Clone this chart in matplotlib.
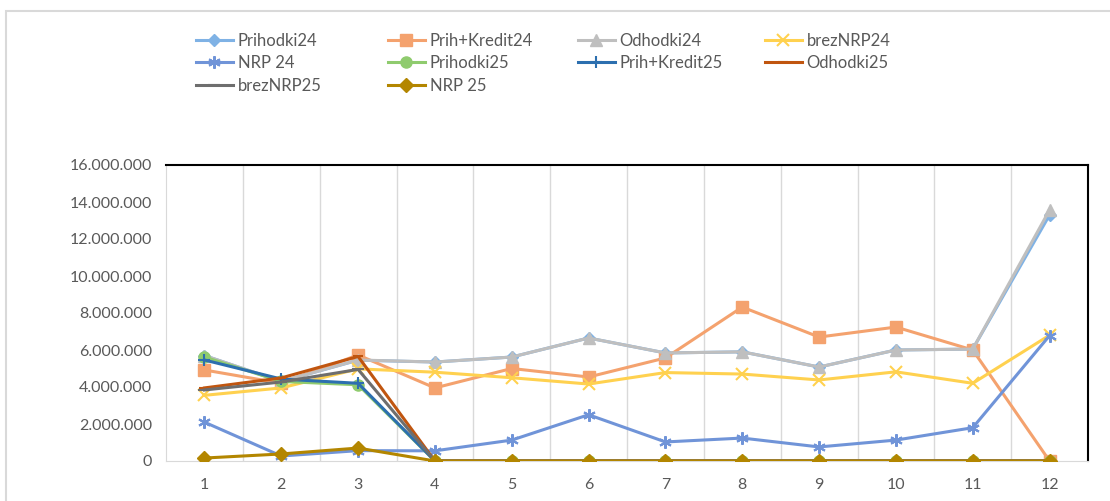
import numpy as np
import matplotlib.pyplot as plt
from matplotlib.patches import Rectangle
from matplotlib.ticker import FuncFormatter

months = list(range(1, 13))

prihodki24 = [5.70e6, 4.30e6, 5.45e6, 5.35e6, 5.62e6, 6.65e6, 5.84e6, 5.90e6, 5.08e6, 6.00e6, 6.05e6, 13.30e6]
prih_kredit24 = [4.92e6, 4.20e6, 5.73e6, 3.95e6, 5.00e6, 4.54e6, 5.57e6, 8.32e6, 6.70e6, 7.24e6, 6.00e6, 0]
odhodki24 = [5.70e6, 4.30e6, 5.46e6, 5.35e6, 5.62e6, 6.65e6, 5.84e6, 5.90e6, 5.08e6, 6.00e6, 6.05e6, 13.57e6]
breznrp24 = [3.55e6, 3.95e6, 4.98e6, 4.80e6, 4.50e6, 4.16e6, 4.78e6, 4.70e6, 4.38e6, 4.82e6, 4.20e6, 6.80e6]
nrp24 = [2.10e6, 0.27e6, 0.56e6, 0.55e6, 1.13e6, 2.50e6, 1.03e6, 1.24e6, 0.76e6, 1.13e6, 1.80e6, 6.78e6]
prihodki25 = [5.62e6, 4.30e6, 4.12e6, 0, 0, 0, 0, 0, 0, 0, 0, 0]
prih_kredit25 = [5.46e6, 4.43e6, 4.20e6, 0, 0, 0, 0, 0, 0, 0, 0, 0]
odhodki25 = [3.95e6, 4.49e6, 5.65e6, 0, 0, 0, 0, 0, 0, 0, 0, 0]
breznrp25 = [3.84e6, 4.27e6, 4.95e6, 0, 0, 0, 0, 0, 0, 0, 0, 0]
nrp25 = [0.16e6, 0.38e6, 0.70e6, 0, 0, 0, 0, 0, 0, 0, 0, 0]

series = [
    ("Prihodki24", prihodki24, "#7FB2E5", "D", 6),
    ("Prih+Kredit24", prih_kredit24, "#F4A26E", "s", 8),
    ("Odhodki24", odhodki24, "#BFBFBF", "^", 8),
    ("brezNRP24", breznrp24, "#FFD14F", "x", 8),
    ("NRP 24", nrp24, "#7094D8", (6, 2, 0), 9),
    ("Prihodki25", prihodki25, "#8FCB6E", "o", 8),
    ("Prih+Kredit25", prih_kredit25, "#2C6FAF", "+", 9),
    ("Odhodki25", odhodki25, "#C0550F", "_", 7),
    ("brezNRP25", breznrp25, "#6E6E6E", "_", 9),
    ("NRP 25", nrp25, "#B38600", "D", 7),
]

plt.rcParams['font.family'] = ['Lato', 'DejaVu Sans']

fig = plt.figure(figsize=(11.1, 5.01), dpi=100)
# chart frame
fig.patches.append(Rectangle((6 / 1110, -0.05), 1.1, (501 - 11) / 501 + 0.05,
                             transform=fig.transFigure, fill=False,
                             edgecolor="#D9D9D9", linewidth=1.5))

ax = fig.add_axes([166 / 1110, 40 / 501, 922 / 1110, 296 / 501])

handles = []
for i, (name, vals, col, mk, ms) in enumerate(series):
    h, = ax.plot(months, vals, color=col, marker=mk, markersize=ms, linewidth=2.2,
                 markeredgewidth=1.5 if mk in ("x", "+", (6, 2, 0), "_") else 1,
                 markeredgecolor=col, label=name, zorder=2 + i * 0.1)
    handles.append(h)

ax.set_xlim(0.5, 12.5)
ax.set_ylim(0, 16e6)
ax.set_xticks(months)
ax.set_yticks(np.arange(0, 16e6 + 1, 2e6))
ax.yaxis.set_major_formatter(FuncFormatter(lambda v, p: "0" if v == 0 else f"{int(v):,}".replace(",", ".")))

for xb in np.arange(1.5, 12.5, 1):
    ax.axvline(xb, color="#D9D9D9", linewidth=1, zorder=1)

ax.spines["left"].set_color("#D9D9D9")
ax.spines["bottom"].set_color("#D9D9D9")
ax.spines["top"].set_color("#000000")
ax.spines["right"].set_color("#000000")
ax.spines["top"].set_linewidth(1.5)
ax.spines["right"].set_linewidth(1.5)
ax.tick_params(length=0, labelsize=11.5, colors="#595959", pad=12)
ax.tick_params(axis="y", pad=10)

# legend laid out row by row, one legend per column
col_x = [196, 388, 578, 765]
for c in range(4):
    hs = handles[c::4]
    leg = fig.legend(handles=hs, labels=[h.get_label() for h in hs],
                     loc="upper left", bbox_to_anchor=(col_x[c] / 1110, 1 - 33 / 501),
                     frameon=False, fontsize=12, handlelength=2.2, borderpad=0,
                     borderaxespad=0, labelspacing=0.38, handletextpad=0.3)
    for t in leg.get_texts():
        t.set_color("#595959")

fig.savefig("out.png", dpi=100)
